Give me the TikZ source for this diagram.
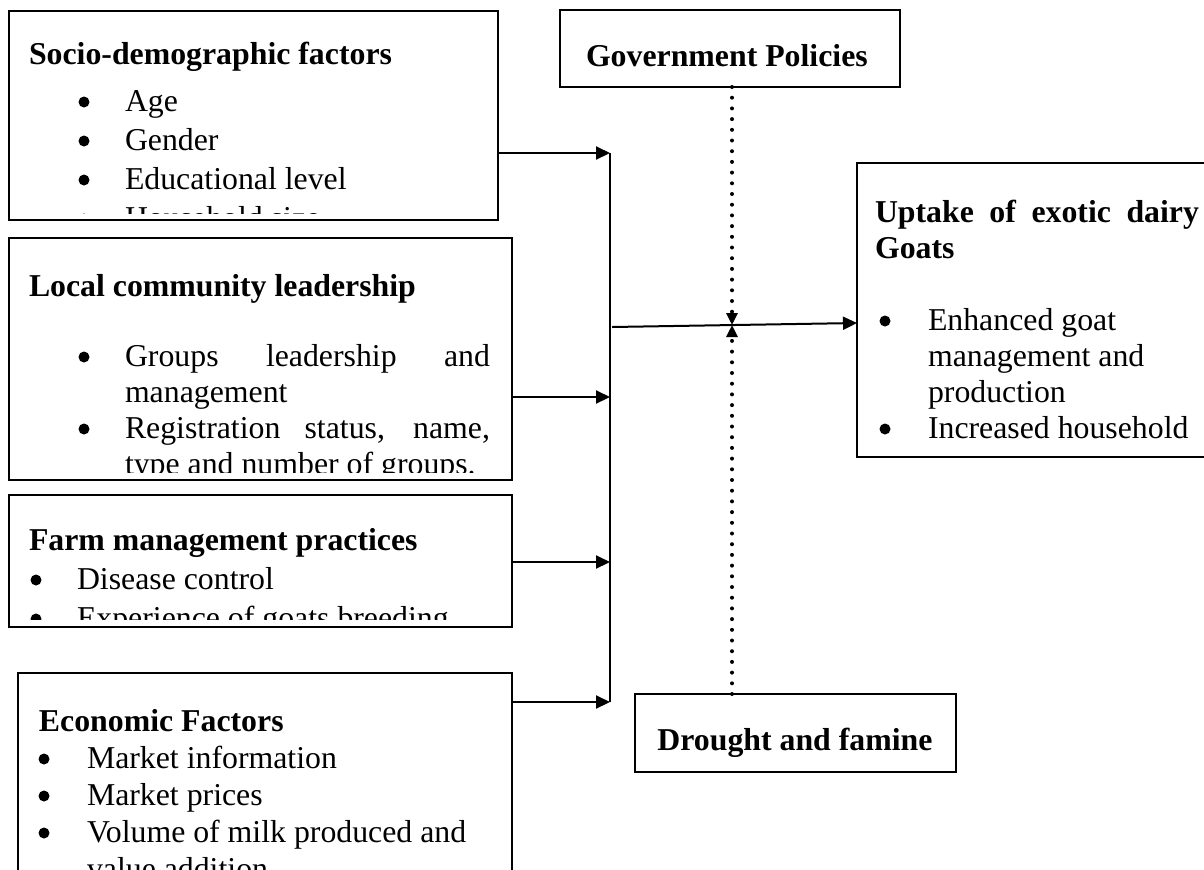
\documentclass[tikz,border=0pt]{standalone}
\usepackage{fontspec}
\setmainfont{Liberation Serif}
\usetikzlibrary{arrows.meta}
\begin{document}
\begin{tikzpicture}[x=0.5pt,y=-0.5pt,
  box/.style={draw,line width=1pt,rectangle,inner sep=0pt,outer sep=0pt,anchor=north west},
  txt/.style={inner sep=0pt,outer sep=0pt,anchor=base west,font=\fontsize{15.9}{19}\selectfont},
  ttl/.style={txt,font=\fontsize{15.9}{19}\selectfont\bfseries},
  link/.style={line width=1pt},
  arr/.style={line width=1pt,-{Triangle[length=7pt,width=6.5pt]}},
  dotarr/.style={line width=2pt,line cap=round,dash pattern=on 0pt off 5.35pt,-{Triangle[length=6pt,width=5.5pt]}},
  bul/.style={fill=black}]
\useasboundingbox (0,0) rectangle (1204,869);
\clip (0,0) rectangle (1204,869);

% boxes
\node[box,minimum width=244.5pt,minimum height=104.5pt] (soc) at (9,11) {};
\node[box,minimum width=251.5pt,minimum height=121pt] (lead) at (9,238) {};
\node[box,minimum width=251.5pt,minimum height=66pt] (farm) at (9,495) {};
\node[box,minimum width=247pt,minimum height=113.5pt] (econ) at (18,673) {};
\node[box,minimum width=170pt,minimum height=38.5pt] (gov) at (560,10) {};
\node[box,minimum width=186.5pt,minimum height=147pt] (up) at (857,163) {};
\node[box,minimum width=160.5pt,minimum height=39pt] (drought) at (635,694) {};

% socio-demographic
\begin{scope}
\clip (11,13) rectangle (496,213);
\node[ttl] (t1) at (29,64) {Socio-demographic factors};
\node[txt] (t1a) at (125,111) {Age};
\node[txt] (t1b) at (125,150) {Gender};
\node[txt] (t1c) at (125,189) {Educational level};
\node[txt] (t1d) at (125,228) {Household size};
\foreach \y in {111,150,189,228} \fill[bul] (84,\y-9) circle (5.5);
\end{scope}

% local community leadership
\begin{scope}
\clip (11,240) rectangle (510,472);
\node[ttl] (t2) at (29,296) {Local community leadership};
\node[txt] (t2a) at (125,366) {\makebox[182.5pt][s]{Groups leadership and}};
\node[txt] (t2b) at (125,402) {management};
\node[txt] (t2c) at (125,438) {\makebox[182.5pt][s]{Registration status, name,}};
\node[txt] (t2d) at (125,474) {type and number of groups.};
\foreach \y in {366,438} \fill[bul] (84,\y-9) circle (5.5);
\end{scope}

% farm management
\begin{scope}
\clip (11,497) rectangle (510,619);
\node[ttl] (t3) at (29,550) {Farm management practices};
\node[txt] (t3a) at (77,589) {Disease control};
\node[txt] (t3b) at (77,628) {Experience of goats breeding};
\foreach \y in {589,628} \fill[bul] (36,\y-9) circle (5.5);
\end{scope}

% economic factors
\node[ttl] (t4) at (39,731) {Economic Factors};
\node[txt] (t4a) at (87,768) {Market information};
\node[txt] (t4b) at (87,805) {Market prices};
\node[txt] (t4c) at (87,842) {Volume of milk produced and};
\node[txt] (t4d) at (87,879) {value addition};
\foreach \y in {768,805,842} \fill[bul] (44,\y-9) circle (5.5);

% government
\node[ttl] (t5) at (586,66) {Government Policies};

% uptake
\node[ttl] (t6) at (875,222) {\makebox[162pt][s]{Uptake of exotic dairy}};
\node[ttl] (t6a) at (875,258) {Goats};
\node[txt] (t6b) at (928,330) {Enhanced goat};
\node[txt] (t6c) at (928,366) {management and};
\node[txt] (t6d) at (928,402) {production};
\node[txt] (t6e) at (928,438) {Increased household};
\foreach \y in {330,438} \fill[bul] (885,\y-9) circle (5.5);

% drought
\node[ttl,anchor=base] (t7) at (795,750) {Drought and famine};

% connectors
\coordinate (j1) at (610,153);
\coordinate (j2) at (610,397);
\coordinate (j3) at (610,562);
\coordinate (j4) at (610,702);
\coordinate (jo) at (612,327);
\coordinate (mid) at (732,325);
\draw[arr] (soc.east |- j1) -- (j1);
\draw[arr] (lead.east |- j2) -- (j2);
\draw[arr] (farm.east |- j3) -- (j3);
\draw[arr] (econ.east |- j4) -- (j4);
\draw[link] (j1) -- (j4);
\draw[arr] (jo) -- ([yshift=-6.5pt]up.west);
\draw[dotarr] (gov.south -| mid) -- (mid);
\draw[dotarr] (drought.north -| mid) -- (mid);
\end{tikzpicture}
\end{document}
